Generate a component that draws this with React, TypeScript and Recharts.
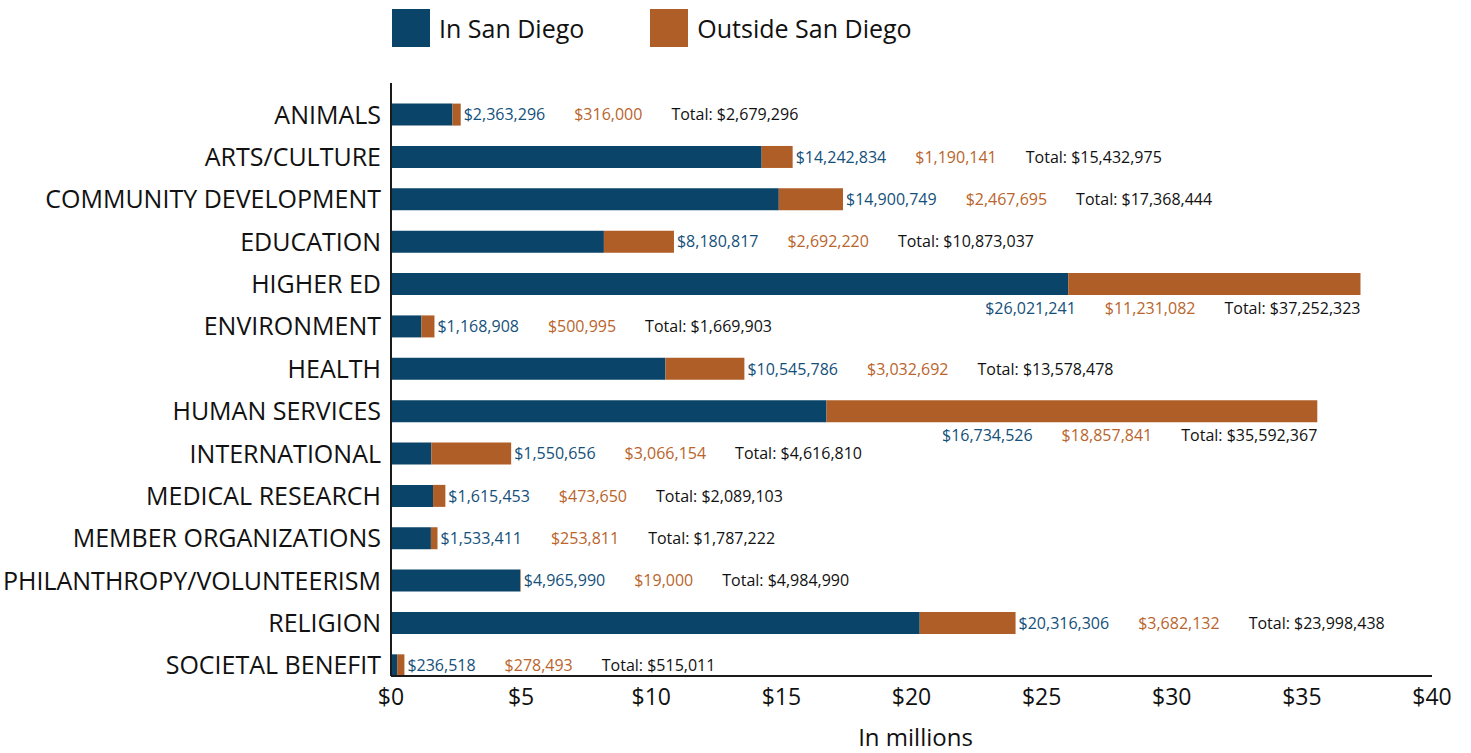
import React from 'react';
import { BarChart, Bar, XAxis, YAxis, Legend, LabelList } from 'recharts';

const categories = [
  'ANIMALS',
  'ARTS/CULTURE',
  'COMMUNITY DEVELOPMENT',
  'EDUCATION',
  'HIGHER ED',
  'ENVIRONMENT',
  'HEALTH',
  'HUMAN SERVICES',
  'INTERNATIONAL',
  'MEDICAL RESEARCH',
  'MEMBER ORGANIZATIONS',
  'PHILANTHROPY/VOLUNTEERISM',
  'RELIGION',
  'SOCIETAL BENEFIT',
];

const inSanDiego = [
  2363296, 14242834, 14900749, 8180817, 26021241, 1168908, 10545786,
  16734526, 1550656, 1615453, 1533411, 4965990, 20316306, 236518,
];

const outsideSanDiego = [
  316000, 1190141, 2467695, 2692220, 11231082, 500995, 3032692,
  18857841, 3066154, 473650, 253811, 19000, 3682132, 278493,
];

const totals = [
  2679296, 15432975, 17368444, 10873037, 37252323, 1669903, 13578478,
  35592367, 4616810, 2089103, 1787222, 4984990, 23998438, 515011,
];

const xTicks = [0, 5, 10, 15, 20, 25, 30, 35, 40];

const BLUE = '#0A4468';
const ORANGE = '#B05E27';
const BLUE_TEXT = '#14507A';
const ORANGE_TEXT = '#B9652C';
const FONT = '"Open Sans", sans-serif';

const data = categories.map((name, i) => ({
  name,
  inSD: inSanDiego[i] / 1e6,
  outSD: outsideSanDiego[i] / 1e6,
}));

const fmt = (v: number) => '$' + v.toLocaleString('en-US');

function RowLabel(props: any) {
  const vb = props.viewBox || {};
  const x = props.x ?? vb.x;
  const y = props.y ?? vb.y;
  const width = props.width ?? vb.width;
  const height = props.height ?? vb.height;
  let i = categories.indexOf(props.value);
  if (i < 0) i = props.index;
  if (i == null || i < 0) return null;
  const end = x + width;
  const cy = y + height / 2;
  const below = totals[i] / 1e6 > 30;
  return (
    <text
      x={below ? end : end + 3}
      y={below ? cy + 24 : cy}
      dy="0.36em"
      textAnchor={below ? 'end' : 'start'}
      fontSize={16}
      fontFamily={FONT}
    >
      <tspan fill={BLUE_TEXT}>{fmt(inSanDiego[i])}</tspan>
      <tspan dx={29} fill={ORANGE_TEXT}>{fmt(outsideSanDiego[i])}</tspan>
      <tspan dx={29} fill="#111">{'Total: ' + fmt(totals[i])}</tspan>
    </text>
  );
}

function LegendContent(props: any) {
  const payload = props.payload || [];
  return (
    <div style={{ display: 'flex', alignItems: 'center', fontFamily: FONT, fontSize: 25, color: '#111' }}>
      {payload.map((p: any, k: number) => (
        <div key={k} style={{ display: 'flex', alignItems: 'center', marginRight: 66 }}>
          <div style={{ width: 38, height: 38, background: p.color, marginRight: 9 }} />
          <span>{p.value}</span>
        </div>
      ))}
    </div>
  );
}

export default function App() {
  return (
    <div style={{ position: 'absolute', left: 0, top: 0 }}>
      <BarChart
        width={1471}
        height={753}
        data={data}
        layout="vertical"
        margin={{ top: 83, right: 39, bottom: 0, left: 0 }}
      >
        <XAxis
          type="number"
          domain={[0, 40]}
          ticks={xTicks}
          tickFormatter={(v: number) => '$' + v}
          tickLine={false}
          tickSize={0}
          tickMargin={13}
          height={77}
          axisLine={{ stroke: '#1a1a1a', strokeWidth: 2 }}
          tick={{ fill: '#111', fontSize: 23, fontFamily: FONT }}
          interval={0}
          label={{ value: 'In millions', position: 'insideBottom', offset: 7, dx: 4, fill: '#111', fontSize: 24, fontFamily: FONT }}
        />
        <YAxis
          type="category"
          dataKey="name"
          width={391}
          tickLine={false}
          tickSize={0}
          tickMargin={10}
          interval={0}
          padding={{ top: 10.6, bottom: -10.7 }}
          axisLine={{ stroke: '#1a1a1a', strokeWidth: 2 }}
          tick={{ fill: '#111', fontSize: 25, fontFamily: FONT }}
        />
        <Legend
          layout="vertical"
          verticalAlign="middle"
          align="center"
          wrapperStyle={{ top: 9, left: 392, width: 800 }}
          content={LegendContent}
        />
        <Bar dataKey="inSD" name="In San Diego" stackId="a" fill={BLUE} barSize={22} isAnimationActive={false} />
        <Bar dataKey="outSD" name="Outside San Diego" stackId="a" fill={ORANGE} barSize={22} isAnimationActive={false}>
          <LabelList dataKey="name" content={RowLabel} />
        </Bar>
      </BarChart>
    </div>
  );
}
